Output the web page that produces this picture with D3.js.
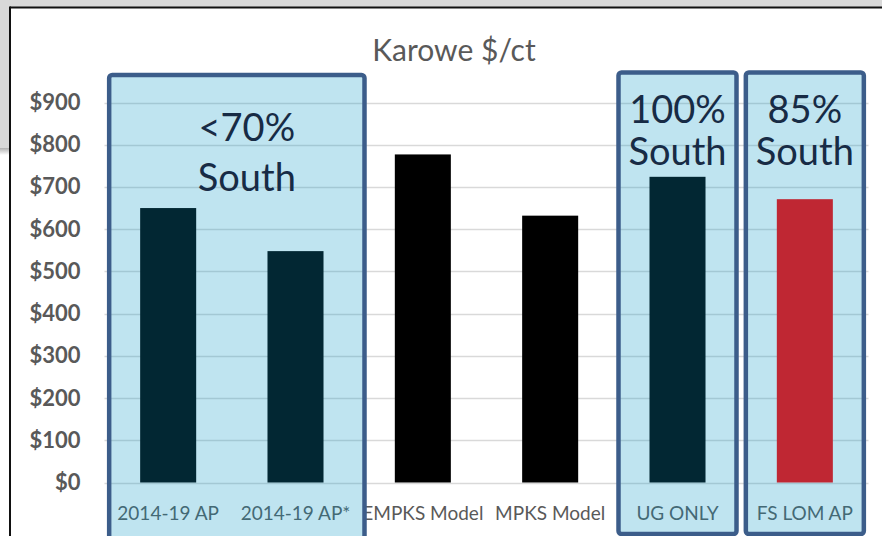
<!DOCTYPE html>
<html>
<head>
<meta charset="utf-8">
<script src="https://cdn.jsdelivr.net/npm/d3@7"></script>
<style>
  html, body { margin: 0; padding: 0; background: #fff; }
  svg { display: block; font-family: Lato, "Open Sans", sans-serif; }
</style>
</head>
<body>
<svg id="chart" width="882" height="536"></svg>
<script>
// chart data
const title = "Karowe $/ct";
const categories = ["2014-19 AP", "2014-19 AP*", "EMPKS Model", "MPKS Model", "UG ONLY", "FS LOM AP"];
const values = [650, 548, 777, 632, 724, 671];
const barColors = ["#000000", "#000000", "#000000", "#000000", "#000000", "#ff0000"];
const yTicks = [0, 100, 200, 300, 400, 500, 600, 700, 800, 900];

// highlight boxes laid over the chart
const boxFirst = [0, 4, 5];
const boxLast = [1, 4, 5];
const boxLines = [["<70%", "South"], ["100%", "South"], ["85%", "South"]];

const W = 882, H = 536;
const margin = {top: 102.5, right: 13.5, bottom: 53.5, left: 104.5};

const svg = d3.select("#chart");

// slide frame behind the chart
svg.append("rect").attr("x", 0).attr("y", 0).attr("width", W).attr("height", 7).attr("fill", "#d9d9d9");
svg.append("rect").attr("x", 0).attr("y", 0).attr("width", 9).attr("height", 148).attr("fill", "#d9d9d9");
const shadow = svg.append("defs").append("linearGradient")
    .attr("id", "shade").attr("x1", 0).attr("y1", 0).attr("x2", 0).attr("y2", 1);
shadow.append("stop").attr("offset", "0%").attr("stop-color", "#b0b0b0");
shadow.append("stop").attr("offset", "100%").attr("stop-color", "#ffffff");
svg.append("rect").attr("x", 0).attr("y", 148).attr("width", 9).attr("height", 7).attr("fill", "url(#shade)");
svg.append("line").attr("x1", 10).attr("x2", W).attr("y1", 7.5).attr("y2", 7.5)
    .attr("stroke", "#111").attr("stroke-width", 2);
svg.append("line").attr("x1", 10).attr("x2", 10).attr("y1", 6.5).attr("y2", H)
    .attr("stroke", "#111").attr("stroke-width", 2);

const x = d3.scaleBand()
    .domain(categories)
    .range([margin.left, W - margin.right])
    .paddingInner(0.56)
    .paddingOuter(0.28);

const y = d3.scaleLinear()
    .domain([0, 900])
    .range([H - margin.bottom, margin.top]);

// title
svg.append("text")
    .attr("x", 454).attr("y", 61)
    .attr("text-anchor", "middle")
    .attr("fill", "#595959")
    .style("font-size", "30px")
    .text(title);

// gridlines
svg.append("g")
    .selectAll("line")
    .data(yTicks)
    .join("line")
    .attr("x1", margin.left).attr("x2", W - margin.right)
    .attr("y1", d => Math.round(y(d)) + 0.5).attr("y2", d => Math.round(y(d)) + 0.5)
    .attr("stroke", "#d9d9d9").attr("stroke-width", 1.5);

// y axis labels
const yAxis = svg.append("g")
    .attr("transform", `translate(${margin.left},0)`)
    .call(d3.axisLeft(y).tickValues(yTicks).tickFormat(d => "$" + d).tickSize(0).tickPadding(24));
yAxis.select(".domain").remove();
yAxis.selectAll("text")
    .attr("fill", "#595959")
    .style("font-size", "22px")
    .style("font-weight", "bold")
    .style("font-family", "Lato, sans-serif");

// bars
svg.append("g")
    .selectAll("rect")
    .data(values)
    .join("rect")
    .attr("x", (d, i) => x(categories[i]))
    .attr("width", x.bandwidth())
    .attr("y", d => y(d))
    .attr("height", d => y(0) - y(d))
    .attr("fill", (d, i) => barColors[i]);

// x axis labels
const xAxis = svg.append("g")
    .attr("transform", `translate(0,${y(0)})`)
    .call(d3.axisBottom(x).tickSize(0).tickPadding(24));
xAxis.select(".domain").remove();
xAxis.selectAll("text")
    .attr("fill", "#595959")
    .style("font-size", "19px")
    .style("font-family", "Lato, sans-serif");

// translucent blue boxes on top
const boxTop = [75, 72.5, 72.5];
const boxBottom = [545, 534, 534];
const boxExtraRight = [10, 0, 0];
const textDx = [10, 0, 0];
const textBase = [[141, 191], [123, 165], [123, 165]];

const boxes = svg.append("g");
boxFirst.forEach((f, i) => {
  const left = x(categories[f]) + x.bandwidth() / 2 - 59;
  const right = x(categories[boxLast[i]]) + x.bandwidth() / 2 + 59 + boxExtraRight[i];
  boxes.append("rect")
      .attr("x", left).attr("y", boxTop[i])
      .attr("width", right - left).attr("height", boxBottom[i] - boxTop[i])
      .attr("rx", 3)
      .attr("fill", "rgb(8,150,196)").attr("fill-opacity", 0.26)
      .attr("stroke", "#3c5d8a").attr("stroke-width", 4.5);
  const cx = (left + right) / 2 + textDx[i];
  boxLines[i].forEach((t, j) => {
    boxes.append("text")
        .attr("x", cx).attr("y", textBase[i][j])
        .attr("text-anchor", "middle")
        .attr("fill", "#172b45")
        .style("font-size", "38px")
        .text(t);
  });
});
</script>
</body>
</html>
